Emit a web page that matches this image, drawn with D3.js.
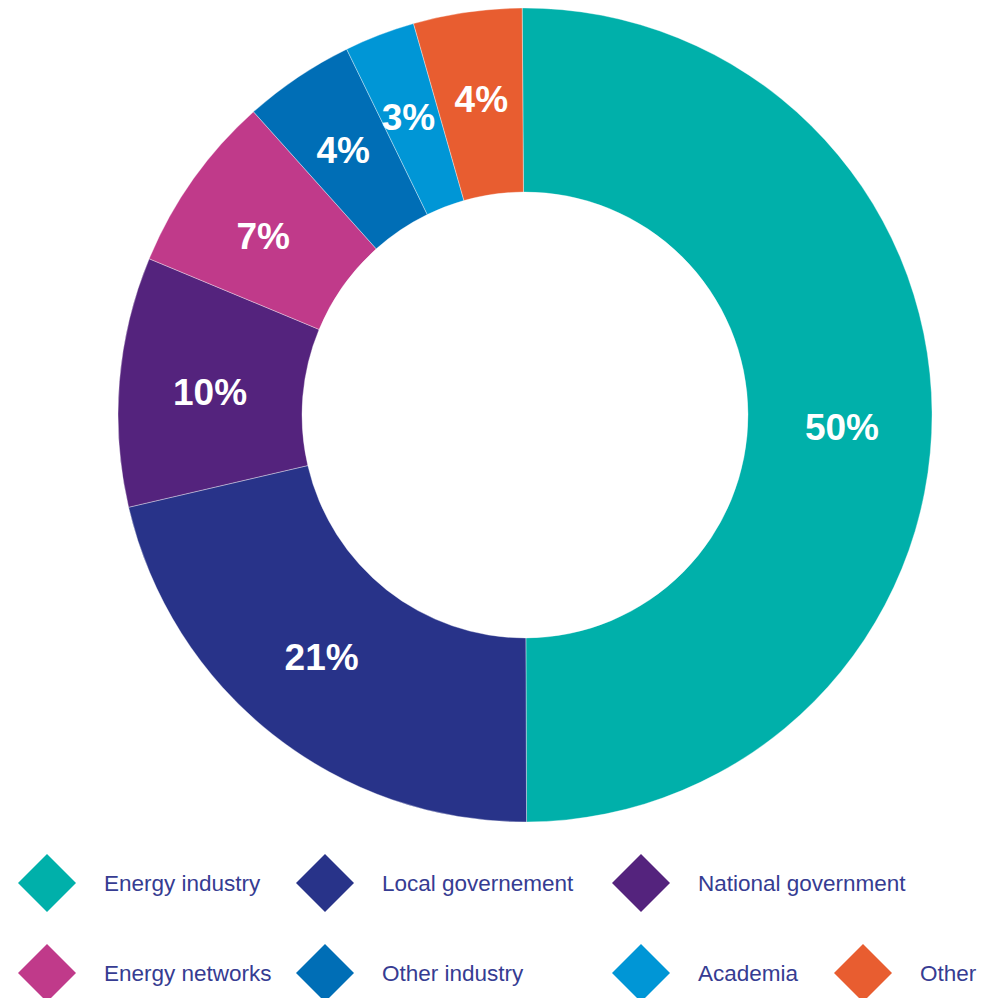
<!DOCTYPE html>
<html>
<head>
<meta charset="utf-8">
<script src="https://cdn.jsdelivr.net/npm/d3@7"></script>
<style>
  html, body { margin: 0; padding: 0; background: #fff; }
  svg { display: block; }
</style>
</head>
<body>
<svg id="chart" width="985" height="998"></svg>
<script>
// ---- data ----
const categories = ["Energy industry", "Local governement", "National government", "Energy networks", "Other industry", "Academia", "Other"];
const values = [50, 21.4, 9.9, 7.1, 4.4, 2.8, 4.3];
const labels = ["50%", "21%", "10%", "7%", "4%", "3%", "4%"];
const colors = ["#00b0aa", "#283389", "#54237d", "#c03a8a", "#006eb6", "#0096d6", "#e85d30"];

// ---- layout ----
const svg = d3.select("#chart");
const cx = 525, cy = 415, rOuter = 407, rInner = 223;
const start = -0.4 * Math.PI / 180;
// small manual label nudges (layout only)
const nudge = [[2, 13], [-8, -5], [-1, 3], [-5, 3], [-6, -4], [-4, -4], [1, -5]];

const pie = d3.pie().sort(null).value(d => d.v).startAngle(start).endAngle(start + 2 * Math.PI);
const arc = d3.arc().innerRadius(rInner).outerRadius(rOuter);
const labelArc = d3.arc().innerRadius(315).outerRadius(315);

const data = categories.map((c, i) => ({ c, v: values[i], label: labels[i], color: colors[i] }));
const arcs = pie(data);

const g = svg.append("g").attr("transform", `translate(${cx},${cy})`);
g.selectAll("path").data(arcs).join("path")
  .attr("d", arc)
  .attr("fill", d => d.data.color)
  .attr("stroke", "#ffffff")
  .attr("stroke-opacity", 0.6)
  .attr("stroke-width", 0.6);

g.selectAll("text").data(arcs).join("text")
  .attr("transform", (d, i) => {
    const [x, y] = labelArc.centroid(d);
    return `translate(${x + nudge[i][0]},${y + nudge[i][1]})`;
  })
  .attr("text-anchor", "middle")
  .attr("dy", "0.36em")
  .attr("fill", "#ffffff")
  .attr("font-family", "'Liberation Sans', Arial, Helvetica, sans-serif")
  .attr("font-weight", "bold")
  .attr("font-size", 37)
  .text(d => d.data.label);

// ---- legend ----
const rowY = [883, 973];
const colX = [47, 325, 641, 863];
const legendPos = [[0,0],[0,1],[0,2],[1,0],[1,1],[1,2],[1,3]];
const half = 29;
const leg = svg.append("g");
const items = leg.selectAll("g").data(data).join("g")
  .attr("transform", (d, i) => `translate(${colX[legendPos[i][1]]},${rowY[legendPos[i][0]]})`);
items.append("path")
  .attr("d", `M0,${-half}L${half},0L0,${half}L${-half},0Z`)
  .attr("fill", d => d.color);
items.append("text")
  .attr("x", 57)
  .attr("dy", "0.36em")
  .attr("fill", "#363c92")
  .attr("font-family", "'Liberation Sans', Arial, Helvetica, sans-serif")
  .attr("font-size", 22.5)
  .text(d => d.c);
</script>
</body>
</html>
